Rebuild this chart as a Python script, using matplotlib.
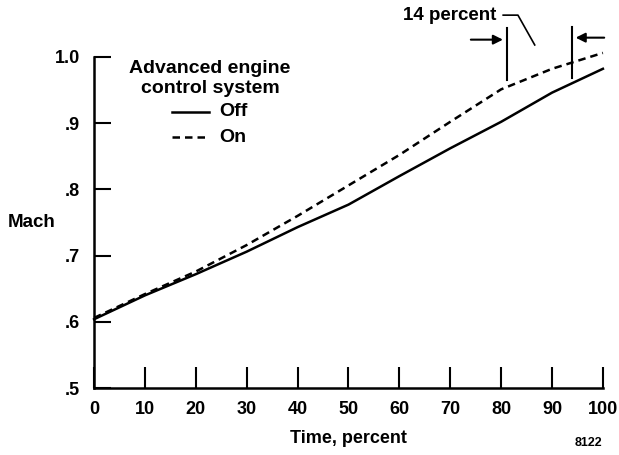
import matplotlib.pyplot as plt

# data
time = [0, 10, 20, 30, 40, 50, 60, 70, 80, 90, 100]
mach_off = [0.604, 0.640, 0.672, 0.706, 0.743, 0.777, 0.820, 0.862, 0.902, 0.946, 0.982]
mach_on = [0.606, 0.642, 0.676, 0.716, 0.760, 0.806, 0.852, 0.902, 0.951, 0.982, 1.006]
xticks = [0, 10, 20, 30, 40, 50, 60, 70, 80, 90, 100]
yticks = [0.5, 0.6, 0.7, 0.8, 0.9, 1.0]
ytick_labels = [".5", ".6", ".7", ".8", ".9", "1.0"]

plt.rcParams['font.family'] = ['Liberation Sans', 'DejaVu Sans']
plt.rcParams['font.weight'] = 'bold'

fig = plt.figure(figsize=(6.19, 4.55), dpi=100)
ax = fig.add_axes([0.152, 0.147, 0.822, 0.728])

ax.plot(time, mach_off, color='black', lw=1.8, clip_on=False)
ax.plot(time, mach_on, color='black', lw=1.8, dashes=(3, 2), clip_on=False)

ax.set_xlim(0, 100)
ax.set_ylim(0.5, 1.0)
ax.set_xticks(xticks)
ax.set_xticklabels([str(t) for t in xticks], fontsize=13, fontweight='bold')
ax.set_yticks(yticks)
ax.set_yticklabels(ytick_labels, fontsize=13, fontweight='bold')
ax.tick_params(axis='x', direction='in', length=15, width=1.5, pad=9)
ax.tick_params(axis='y', direction='in', length=12, width=1.5, pad=10)
ax.spines['top'].set_visible(False)
ax.spines['right'].set_visible(False)
ax.spines['left'].set_linewidth(1.8)
ax.spines['bottom'].set_linewidth(1.8)

ax.set_xlabel("Time, percent", fontsize=13, fontweight='bold', labelpad=9)
fig.text(0.013, 0.512, "Mach", fontsize=13.5, fontweight='bold', va='center')
fig.text(0.95, 0.02, "8122", fontsize=9, fontweight='bold', ha='center')

# legend drawn as a small text block
ax.text(22.8, 0.967, "Advanced engine\ncontrol system", ha='center', va='center',
        fontsize=14, fontweight='bold', linespacing=1.25)
ax.plot([15.3, 22.6], [0.917, 0.917], color='black', lw=1.8)
ax.plot([15.3, 22.6], [0.879, 0.879], color='black', lw=1.8, dashes=(3, 2))
ax.text(24.6, 0.917, "Off", va='center', fontsize=14, fontweight='bold')
ax.text(24.6, 0.879, "On", va='center', fontsize=14, fontweight='bold')

# 14 percent annotation
ax.plot([81.1, 81.1], [0.965, 1.044], color='black', lw=1.5, clip_on=False)
ax.plot([93.9, 93.9], [0.968, 1.045], color='black', lw=1.5, clip_on=False)
arrow = dict(arrowstyle='-|>', color='black', lw=1.5, mutation_scale=14)
ax.annotate("", xy=(80.9, 1.026), xytext=(73.5, 1.026), arrowprops=arrow, annotation_clip=False)
ax.annotate("", xy=(94.1, 1.029), xytext=(100.8, 1.029), arrowprops=arrow, annotation_clip=False)
ax.text(69.8, 1.062, "14 percent", ha='center', va='center', fontsize=13.5, fontweight='bold')
ax.plot([80.4, 83.3, 86.6], [1.063, 1.063, 1.018], color='black', lw=1.2, clip_on=False)

fig.savefig("out.png", dpi=100)
